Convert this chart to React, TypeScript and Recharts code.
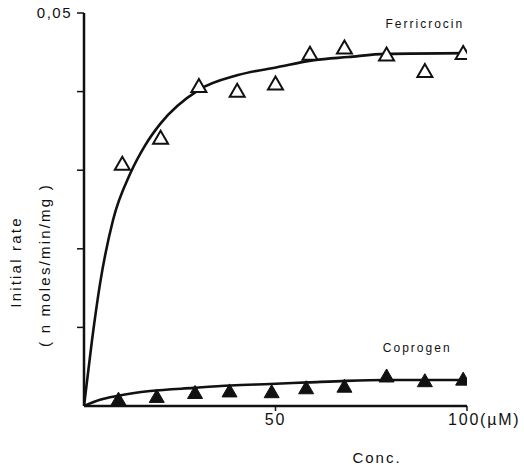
import { ComposedChart, Line, Scatter, XAxis, YAxis, ReferenceDot, Label } from "recharts"

// measured points (triangles)
const ferriConc = [10, 20, 30, 40, 50, 59, 68, 79, 89, 99]
const ferriRate = [0.0308, 0.0341, 0.0407, 0.0401, 0.041, 0.0448, 0.0456, 0.0447, 0.0426, 0.0449]
const copConc = [9, 19, 29, 38, 49, 58, 68, 79, 89, 99]
const copRate = [0.00085, 0.0012, 0.0017, 0.0019, 0.0018, 0.0023, 0.0025, 0.0038, 0.0032, 0.0034]

// fitted curves
const ferriFitConc = [0, 2.1, 4.2, 7.6, 12.1, 16, 19.9, 29.9, 40.2, 50.4, 60.1, 69, 78.7, 100]
const ferriFitRate = [0, 0.0084, 0.0156, 0.0237, 0.0296, 0.0332, 0.0359, 0.0402, 0.0421, 0.0431, 0.044, 0.0444, 0.0448, 0.0449]
const copFitConc = [0, 4.2, 8.9, 17.3, 28.6, 38.3, 48.6, 58.5, 68.5, 78.5, 89, 100]
const copFitRate = [0, 0.0008, 0.0013, 0.0019, 0.0023, 0.0026, 0.0028, 0.003, 0.0032, 0.0033, 0.0033, 0.0033]

const xTicks = [50, 100]
const yTicks = [0.01, 0.02, 0.03, 0.04, 0.05]

const zip = (xs: number[], ys: number[]) => xs.map((x, i) => ({ x, y: ys[i] }))

const ferriPoints = zip(ferriConc, ferriRate)
const copPoints = zip(copConc, copRate)
const ferriFit = zip(ferriFitConc, ferriFitRate)
const copFit = zip(copFitConc, copFitRate)

const FONT = "'Liberation Sans', Arial, Helvetica, sans-serif"
const INK = "#111"

function Triangle({ cx, cy, filled }: any) {
  const w = 15
  const h = 13
  return (
    <polygon
      points={`${cx - w / 2},${cy + h * 0.45} ${cx + w / 2},${cy + h * 0.45} ${cx},${cy - h * 0.55}`}
      fill={filled ? INK : "#fff"}
      stroke={INK}
      strokeWidth={filled ? 1 : 2}
      strokeLinejoin="miter"
    />
  )
}

function XTick({ x, y, payload }: any) {
  const last = payload.value === 100
  return (
    <text
      x={last ? x - 19 : x}
      y={y + 12}
      textAnchor={last ? "start" : "middle"}
      fontFamily={FONT}
      fontSize={16}
      letterSpacing={1.8}
      fill={INK}
    >
      {last ? "100(\u00b5M)" : payload.value}
    </text>
  )
}

function YTick({ x, y, payload }: any) {
  if (payload.value !== 0.05) return null
  return (
    <text x={x} y={y + 5} textAnchor="end" fontFamily={FONT} fontSize={15} letterSpacing={1.5} fill={INK}>
      0,05
    </text>
  )
}

function SeriesName({ viewBox, text }: any) {
  return (
    <text
      x={viewBox.x + viewBox.width / 2}
      y={viewBox.y + viewBox.height / 2 + 4}
      textAnchor="middle"
      fontFamily={FONT}
      fontSize={12}
      letterSpacing={2}
      fill={INK}
    >
      {text}
    </text>
  )
}

function YTitle() {
  return (
    <g fontFamily={FONT} fill={INK} fontSize={15} letterSpacing={2.2}>
      <text x={16} y={262} textAnchor="middle" transform="rotate(-90 16 262)" dy={5}>
        Initial rate
      </text>
      <text x={45} y={265} textAnchor="middle" transform="rotate(-90 45 265)" dy={5}>
        ( n moles/min/mg )
      </text>
    </g>
  )
}

function XTitle() {
  return (
    <text x={377} y={463} textAnchor="middle" fontFamily={FONT} fontSize={15} letterSpacing={2} fill={INK}>
      Conc.
    </text>
  )
}

export default function App() {
  return (
    <div style={{ position: "absolute", left: 0, top: 0, background: "#fff" }}>
      <ComposedChart width={524} height={468} margin={{ top: 13, right: 57, left: 0, bottom: 0 }}>
        <XAxis
          dataKey="x"
          type="number"
          domain={[0, 100]}
          ticks={xTicks}
          tick={<XTick />}
          tickSize={5}
          tickMargin={2}
          height={62}
          axisLine={{ stroke: INK, strokeWidth: 2.5 }}
          tickLine={{ stroke: INK, strokeWidth: 1.5 }}
          allowDataOverflow
        >
          <Label content={<XTitle />} />
        </XAxis>
        <YAxis
          dataKey="y"
          type="number"
          domain={[0, 0.05]}
          ticks={yTicks}
          tick={<YTick />}
          tickSize={7}
          tickMargin={5}
          width={84}
          axisLine={{ stroke: INK, strokeWidth: 2.5 }}
          tickLine={{ stroke: INK, strokeWidth: 1.5 }}
          allowDataOverflow
        >
          <Label content={<YTitle />} />
        </YAxis>
        <Line
          data={ferriFit}
          dataKey="y"
          type="monotone"
          stroke={INK}
          strokeWidth={2.6}
          dot={false}
          activeDot={false}
          isAnimationActive={false}
        />
        <Line
          data={copFit}
          dataKey="y"
          type="monotone"
          stroke={INK}
          strokeWidth={2.6}
          dot={false}
          activeDot={false}
          isAnimationActive={false}
        />
        <Scatter data={ferriPoints} dataKey="y" shape={(p: any) => <Triangle {...p} />} isAnimationActive={false} />
        <Scatter data={copPoints} dataKey="y" shape={(p: any) => <Triangle {...p} filled />} isAnimationActive={false} />
        <ReferenceDot x={89} y={0.0486} r={0} stroke="none" label={<SeriesName text="Ferricrocin" />} />
        <ReferenceDot x={87} y={0.0074} r={0} stroke="none" label={<SeriesName text="Coprogen" />} />
      </ComposedChart>
    </div>
  )
}
